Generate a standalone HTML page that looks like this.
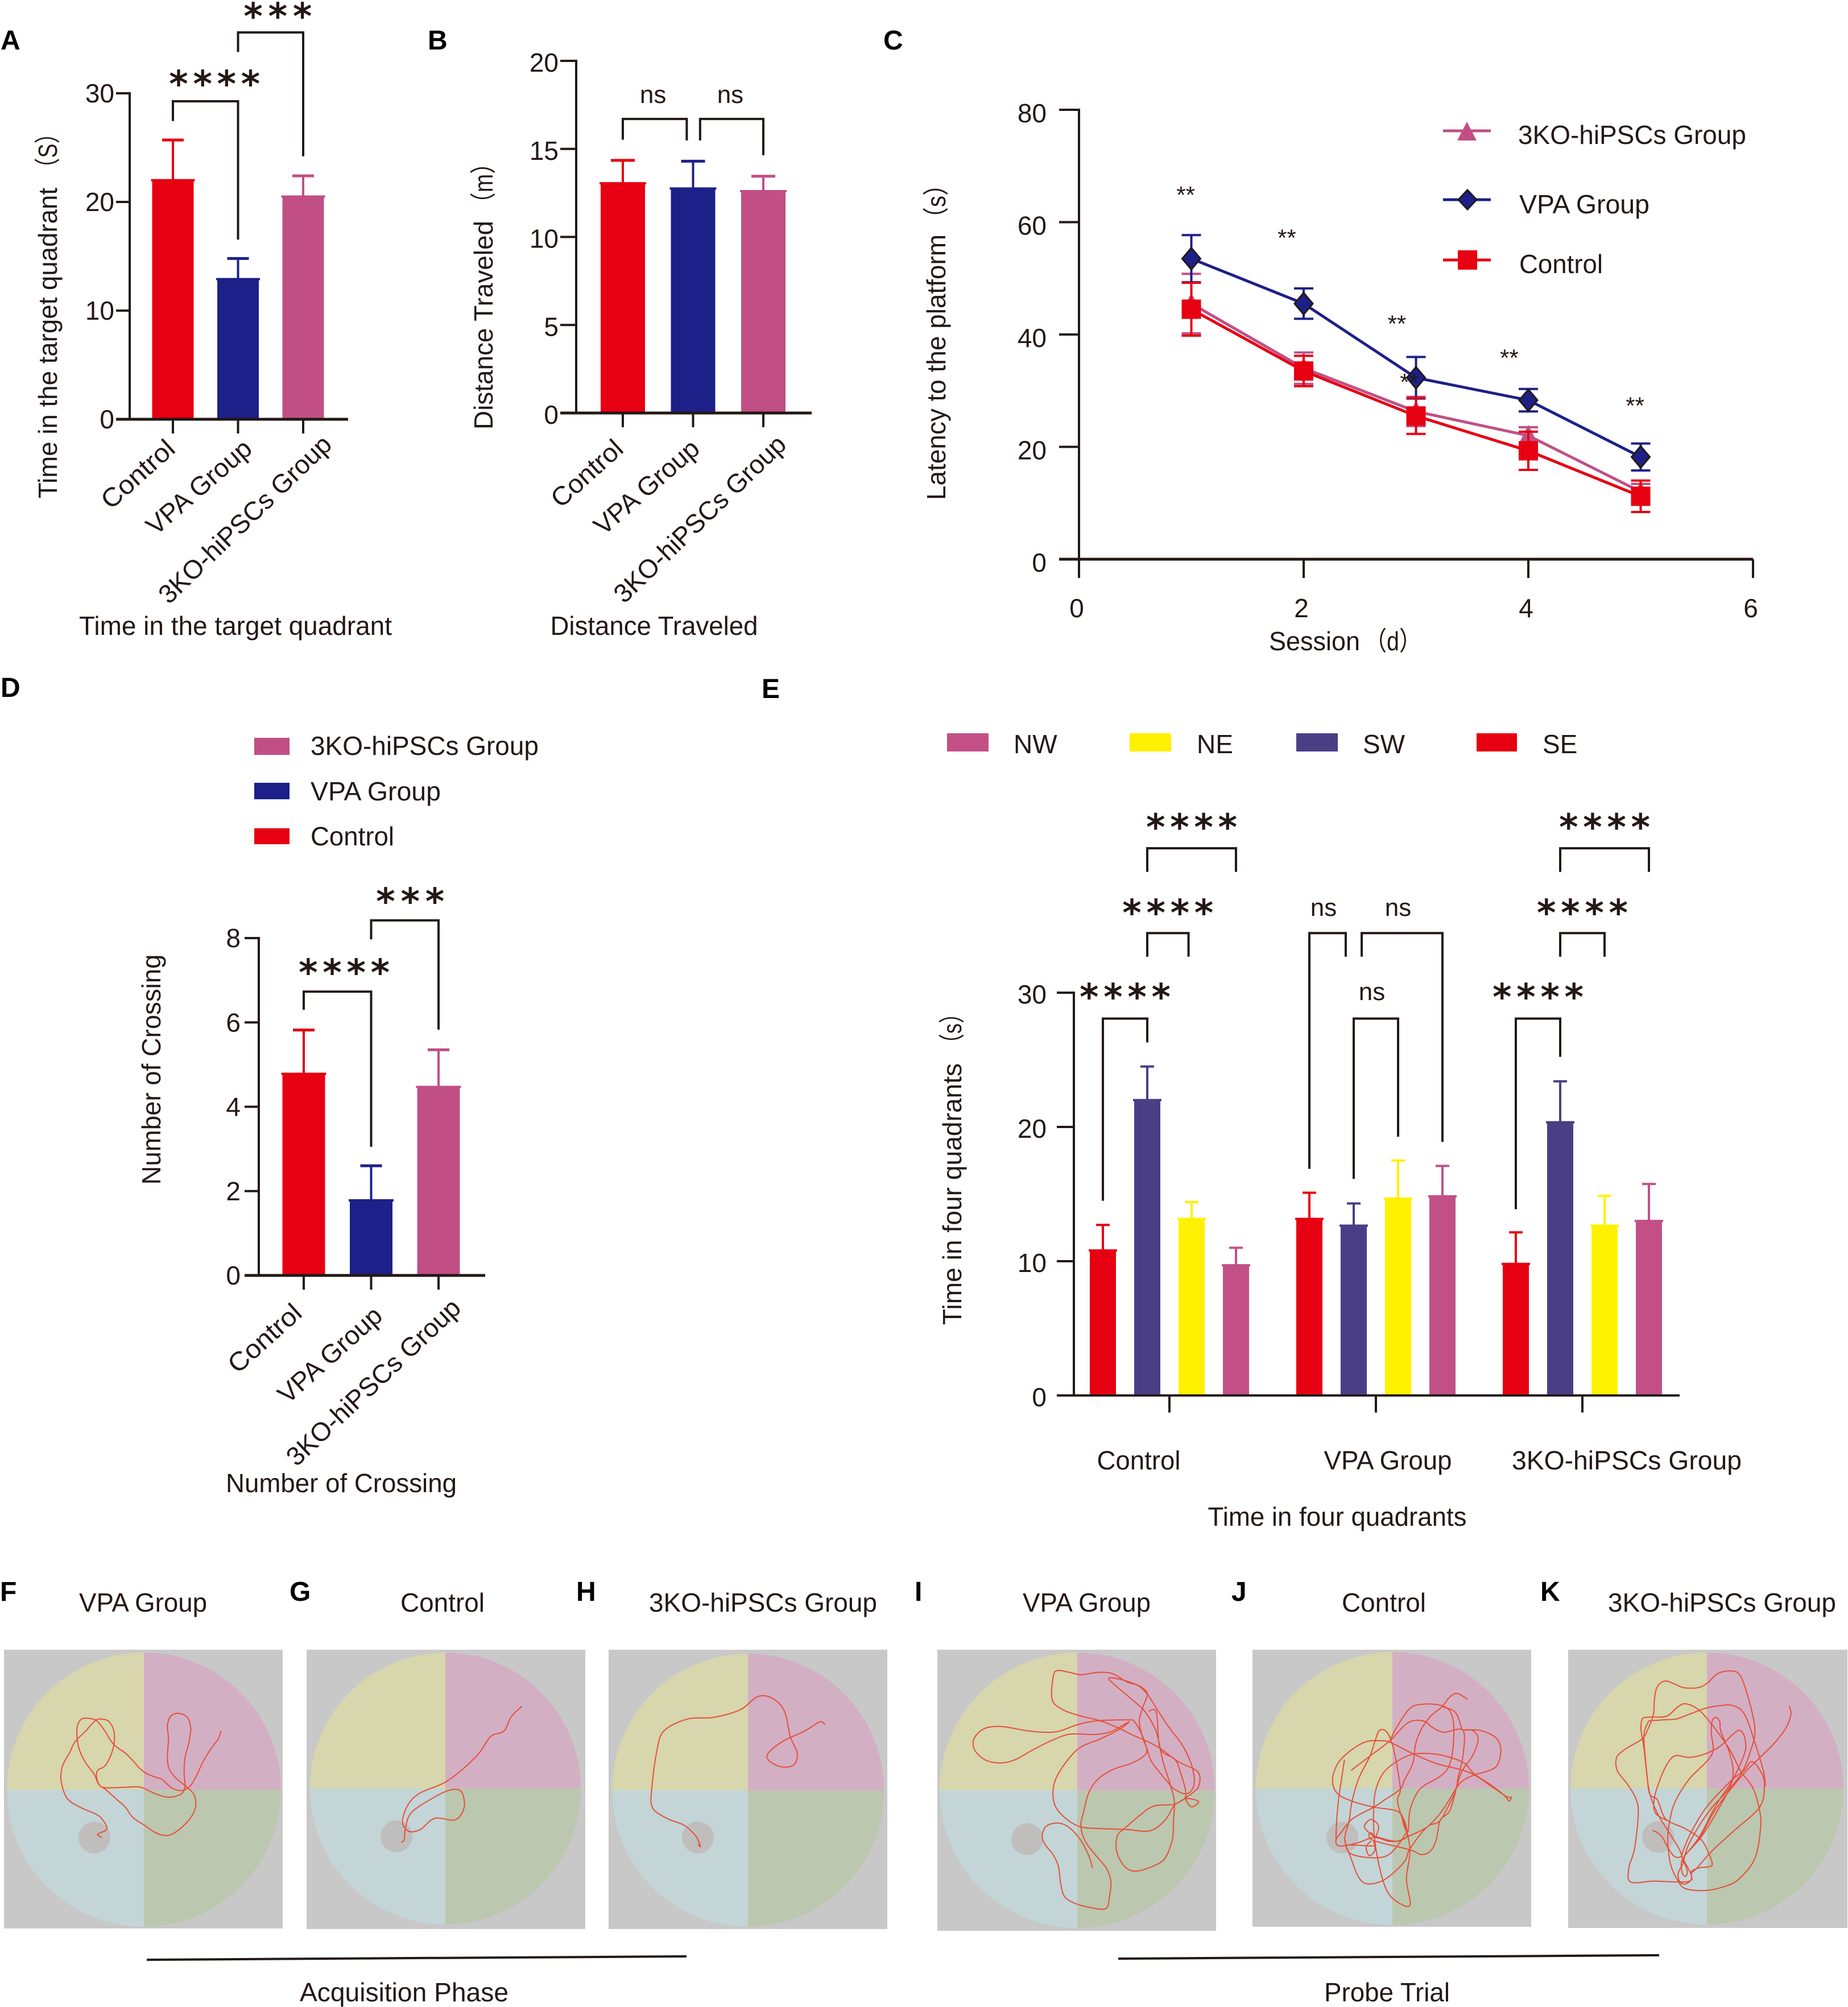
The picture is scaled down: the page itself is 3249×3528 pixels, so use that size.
<!DOCTYPE html>
<html lang="en">
<head>
<meta charset="utf-8">
<title>Behavioural test figure</title>
<style>
html,body{margin:0;padding:0;background:#fff;}
svg{display:block;}
text{font-family:"Liberation Sans","Noto Sans CJK SC",sans-serif;fill:#231815;}
.letter{font-weight:bold;font-size:48px;fill:#000;}
</style>
</head>
<body>
<svg id="fig" xmlns="http://www.w3.org/2000/svg" width="3249" height="3528" viewBox="0 0 3249 3528">
<rect x="0" y="0" width="3249" height="3528" fill="#fff"/>

<text class="letter" x="1" y="87">A</text>
<text class="letter" x="752" y="87">B</text>
<text class="letter" x="1553" y="87">C</text>
<text class="letter" x="1" y="1225">D</text>
<text class="letter" x="1339" y="1227">E</text>
<text class="letter" x="0" y="2814">F</text>
<text class="letter" x="509" y="2814">G</text>
<text class="letter" x="1013" y="2814">H</text>
<text class="letter" x="1608" y="2814">I</text>
<text class="letter" x="2165" y="2814">J</text>
<text class="letter" x="2708" y="2814">K</text>

<g>
  <text font-size="46" textLength="546" lengthAdjust="spacingAndGlyphs" text-anchor="middle" transform="translate(100,603) rotate(-90)">Time in the target quadrant</text>
  <text font-size="46" textLength="100" lengthAdjust="spacingAndGlyphs" text-anchor="middle" transform="translate(100,265) rotate(-90)">（S）</text>
</g>
<text font-size="46" textLength="550" lengthAdjust="spacingAndGlyphs" text-anchor="middle" x="414" y="1116">Time in the target quadrant</text>
<g>
  <text font-size="46" textLength="367" lengthAdjust="spacingAndGlyphs" text-anchor="middle" transform="translate(866,571.5) rotate(-90)">Distance Traveled</text>
  <text font-size="46" textLength="110" lengthAdjust="spacingAndGlyphs" text-anchor="middle" transform="translate(866,322) rotate(-90)">（m）</text>
</g>
<text font-size="46" textLength="365" lengthAdjust="spacingAndGlyphs" text-anchor="middle" x="1150" y="1116">Distance Traveled</text>
<g>
  <text font-size="46" textLength="467" lengthAdjust="spacingAndGlyphs" text-anchor="middle" transform="translate(1662,645.5) rotate(-90)">Latency to the platform</text>
  <text font-size="46" textLength="100" lengthAdjust="spacingAndGlyphs" text-anchor="middle" transform="translate(1662,354) rotate(-90)">（s）</text>
</g>
<g>
  <text font-size="46" textLength="160" lengthAdjust="spacingAndGlyphs" x="2231" y="1143">Session</text>
  <text font-size="46" textLength="100" lengthAdjust="spacingAndGlyphs" text-anchor="middle" x="2449" y="1143">（d）</text>
</g>
<text font-size="46" textLength="405" lengthAdjust="spacingAndGlyphs" text-anchor="middle" transform="translate(282,1880) rotate(-90)">Number of Crossing</text>
<text font-size="46" textLength="406" lengthAdjust="spacingAndGlyphs" text-anchor="middle" x="600" y="2623">Number of Crossing</text>
<g>
  <text font-size="46" textLength="460" lengthAdjust="spacingAndGlyphs" text-anchor="middle" transform="translate(1690,2099) rotate(-90)">Time in four quadrants</text>
  <text font-size="46" textLength="90" lengthAdjust="spacingAndGlyphs" text-anchor="middle" transform="translate(1690,1808) rotate(-90)">（s）</text>
</g>
<text font-size="46" textLength="455" lengthAdjust="spacingAndGlyphs" text-anchor="middle" x="2351" y="2682">Time in four quadrants</text>

<g>
  <line x1="2537" y1="230" x2="2621" y2="230" stroke="#c14f85" stroke-width="5"/>
  <polygon points="2579,214 2596,247 2562,247" fill="#c14f85"/>
  <text x="2669" y="253" font-size="46" textLength="401" lengthAdjust="spacingAndGlyphs">3KO-hiPSCs Group</text>
  <line x1="2537" y1="351" x2="2621" y2="351" stroke="#1d2088" stroke-width="5"/>
  <polygon points="2580,334 2596,351 2580,368 2564,351" fill="#1d2088" stroke="#231815" stroke-width="3"/>
  <text x="2671" y="375" font-size="46" textLength="229" lengthAdjust="spacingAndGlyphs">VPA Group</text>
  <line x1="2537" y1="457" x2="2621" y2="457" stroke="#e60012" stroke-width="5"/>
  <rect x="2563" y="440" width="34" height="34" fill="#e60012"/>
  <text x="2671" y="480" font-size="46" textLength="147" lengthAdjust="spacingAndGlyphs">Control</text>
</g>

<g>
  <rect x="447" y="1297" width="62" height="30" fill="#c14f85"/>
  <text x="546" y="1327" font-size="46" textLength="401" lengthAdjust="spacingAndGlyphs">3KO-hiPSCs Group</text>
  <rect x="447" y="1376" width="62" height="29" fill="#1d2088"/>
  <text x="546" y="1407" font-size="46" textLength="229" lengthAdjust="spacingAndGlyphs">VPA Group</text>
  <rect x="447" y="1456" width="62" height="28" fill="#e60012"/>
  <text x="546" y="1486" font-size="46" textLength="147" lengthAdjust="spacingAndGlyphs">Control</text>
</g>

<g>
  <rect x="1665" y="1289" width="73" height="32" fill="#c25086"/>
  <text x="1782" y="1324" font-size="46">NW</text>
  <rect x="1986" y="1289" width="73" height="32" fill="#fff100"/>
  <text x="2104" y="1324" font-size="46">NE</text>
  <rect x="2279" y="1289" width="73" height="32" fill="#4a3f87"/>
  <text x="2396" y="1324" font-size="46">SW</text>
  <rect x="2596" y="1289" width="71" height="32" fill="#e60012"/>
  <text x="2712" y="1324" font-size="46">SE</text>
</g>

<text font-size="46" textLength="225" lengthAdjust="spacingAndGlyphs" x="139" y="2833">VPA Group</text>
<text font-size="46" textLength="148" lengthAdjust="spacingAndGlyphs" x="704" y="2833">Control</text>
<text font-size="46" textLength="401" lengthAdjust="spacingAndGlyphs" x="1141" y="2833">3KO-hiPSCs Group</text>
<text font-size="46" textLength="225" lengthAdjust="spacingAndGlyphs" x="1798" y="2833">VPA Group</text>
<text font-size="46" textLength="148" lengthAdjust="spacingAndGlyphs" x="2359" y="2833">Control</text>
<text font-size="46" textLength="401" lengthAdjust="spacingAndGlyphs" x="2827" y="2833">3KO-hiPSCs Group</text>

<line x1="258" y1="3445" x2="1207" y2="3439" stroke="#231815" stroke-width="4"/>
<text font-size="46" textLength="367" lengthAdjust="spacingAndGlyphs" x="527" y="3518">Acquisition Phase</text>
<line x1="1966" y1="3443" x2="2917" y2="3437" stroke="#231815" stroke-width="4"/>
<text font-size="46" textLength="221" lengthAdjust="spacingAndGlyphs" x="2328" y="3518">Probe Trial</text>
</svg>

<script>
/* ---------- Panel A / B / D data ---------- */
const categories = ['Control', 'VPA Group', '3KO-hiPSCs Group'];
const groupColors = ['#e60012', '#1d2088', '#c14f85'];

const aTicks = [0, 10, 20, 30];
const aValues = [22, 12.9, 20.5];
const aErrors = [3.7, 1.9, 1.9];
const aComparisons = [
  {from: 0, to: 1, top: 29.27, leftEnd: 27.45, rightEnd: 16.53, label: '****', labelCat: 0.64, labelAt: 31.36},
  {from: 1, to: 2, top: 35.6, leftEnd: 33.8, rightEnd: 24.2, label: '***', labelCat: 1.61, labelAt: 37.6}
];

const bTicks = [0, 5, 10, 15, 20];
const bValues = [13.05, 12.75, 12.6];
const bErrors = [1.3, 1.55, 0.85];
const bComparisons = [
  {from: 0, to: 0.91, top: 16.7, leftEnd: 15.52, rightEnd: 15.48, label: 'ns', labelCat: 0.43, labelAt: 18.1},
  {from: 1.1, to: 2, top: 16.7, leftEnd: 15.48, rightEnd: 14.64, label: 'ns', labelCat: 1.53, labelAt: 18.1}
];

const dTicks = [0, 2, 4, 6, 8];
const dValues = [4.78, 1.78, 4.47];
const dErrors = [1.04, 0.82, 0.88];
const dComparisons = [
  {from: 0, to: 1, top: 6.73, leftEnd: 6.3, rightEnd: 3.05, label: '****', labelCat: 0.6, labelAt: 7.31},
  {from: 1, to: 2, top: 8.42, leftEnd: 7.97, rightEnd: 5.83, label: '***', labelCat: 1.58, labelAt: 9.0}
];

/* ---------- Panel C data ---------- */
const cXTicks = [0, 2, 4, 6];
const cYTicks = [0, 20, 40, 60, 80];
const cSessions = [1, 2, 3, 4, 5];
const c3koMeans = [45.5, 34, 26.3, 22, 12];
const c3koErrors = [5.3, 2.8, 2.6, 1.5, 1.4];
const cVpaMeans = [53.5, 45.5, 32.3, 28.3, 18.2];
const cVpaErrors = [4.2, 2.7, 3.7, 2.0, 2.4];
const cControlMeans = [44.5, 33.5, 25.5, 19.3, 11.2];
const cControlErrors = [4.7, 2.7, 3.2, 3.4, 2.8];
const cSigSessions = [0.95, 1.85, 2.83, 3.83, 4.95, 2.94];
const cSigValues = [65.8, 58.2, 42.9, 36.8, 28.3, 32.5];

/* ---------- Panel E data ---------- */
const eGroups = ['Control', 'VPA Group', '3KO-hiPSCs Group'];
const eQuadrants = ['SE', 'SW', 'NE', 'NW'];
const eColors = ['#e60012', '#4a3f87', '#fff100', '#c25086'];
const eTicks = [0, 10, 20, 30];
const eValuesControl = [10.8, 22, 13.15, 9.7];
const eValuesVpa = [13.15, 12.65, 14.66, 14.83];
const eValues3ko = [9.8, 20.35, 12.65, 13];
const eErrorsControl = [1.9, 2.5, 1.25, 1.3];
const eErrorsVpa = [1.95, 1.65, 2.84, 2.27];
const eErrors3ko = [2.35, 3.05, 2.22, 2.75];
const eComparisons = [
  {group: 0, from: 0, to: 1, top: 28.07, leftEnd: 14.5, rightEnd: 26.3, label: '****', labelAt: 30.08},
  {group: 0, from: 1, to: 1.93, top: 34.44, leftEnd: 32.68, rightEnd: 32.68, label: '****', labelAt: 36.36},
  {group: 0, from: 1, to: 3, top: 40.76, leftEnd: 39, rightEnd: 39, label: '****', labelAt: 42.73},
  {group: 1, from: 0, to: 0.82, top: 34.44, leftEnd: 16.88, rightEnd: 32.68, label: 'ns', labelAt: 36.36},
  {group: 1, from: 1.18, to: 3, top: 34.44, leftEnd: 32.68, rightEnd: 18.89, label: 'ns', labelAt: 36.36},
  {group: 1, from: 1, to: 2, top: 28.07, leftEnd: 16.13, rightEnd: 19.27, label: 'ns', labelAt: 30.08},
  {group: 2, from: 0, to: 1, top: 28.07, leftEnd: 13.87, rightEnd: 25.22, label: '****', labelAt: 30.08},
  {group: 2, from: 1, to: 2, top: 34.44, leftEnd: 32.68, rightEnd: 32.68, label: '****', labelAt: 36.36},
  {group: 2, from: 1, to: 3, top: 40.76, leftEnd: 39, rightEnd: 39, label: '****', labelAt: 42.73}
];

/* ---------- Panels F–K swim paths (traced samples, in tracing units) ---------- */
const trackF = [[[1145,428],[1130,470],[1090,525],[1050,590],[1015,665],[985,715],[955,738],[920,742],[880,725],[835,685],[800,672],[755,655],[715,625],[680,585],[640,545],[590,510],[560,475],[530,425],[490,375],[450,362],[410,365],[388,400],[385,450],[395,520],[430,595],[475,655],[500,710],[540,740],[590,785],[640,830],[680,885],[740,925],[800,965],[855,980],[900,965],[960,915],[1000,860],[1012,810],[1000,760],[960,720],[905,675],[870,625],[862,560],[868,470],[862,400],[880,350],[920,335],[965,355],[985,410],[975,490],[955,570],[950,650],[955,720],[935,760],[870,778],[800,760],[720,725],[640,725],[540,728],[505,715],[488,670],[495,635],[530,615],[560,565],[580,500],[580,430],[555,380],[515,365],[480,375],[430,430],[375,485],[345,545],[310,610],[300,680],[320,760],[350,800],[410,835],[480,865],[515,890],[543,945],[495,972],[515,990],[490,975]]];
const trackG = [[[888,503],[870,540],[858,590],[835,610],[815,670],[785,730],[755,775],[715,810],[695,850],[685,910],[695,945],[715,940],[740,900],[775,905],[790,860],[785,805],[765,800],[735,830],[700,880],[690,935],[688,975],[683,985]]];
const trackH = [[[1404,568],[1395,558],[1370,590],[1330,630],[1305,680],[1325,715],[1350,712],[1357,670],[1345,610],[1335,520],[1315,475],[1290,468],[1260,515],[1215,542],[1170,548],[1130,590],[1118,660],[1110,780],[1110,860],[1135,900],[1165,925],[1185,965],[1192,1000],[1188,992]]];
const trackI = [[[818,1152],[800,1090],[760,1010],[710,950],[665,920],[615,915],[570,935],[553,985],[570,1030],[610,1080],[638,1140],[650,1230],[670,1300],[720,1335],[800,1358],[888,1365],[908,1300],[915,1220],[890,1150],[840,1090],[780,1010],[757,930],[770,860],[800,750],[850,680],[930,630],[1020,600],[1090,560],[1105,525],[1085,470],[1065,380],[1085,300],[1108,235],[1080,200],[1035,178],[960,155],[905,155],[1000,240],[1090,320],[1140,400],[1165,470],[1190,590],[1225,700],[1250,800],[1245,900],[1240,1000],[1200,1100],[1140,1140],[1045,1168],[985,1140],[945,1060],[950,980],[990,940],[1060,880],[1140,825],[1250,815],[1310,785],[1378,800],[1340,828],[1310,785],[1340,760],[1378,720],[1375,645],[1270,590],[1175,520],[1100,480],[1030,450],[960,415],[860,375],[740,345],[650,310],[605,260],[610,150],[630,110],[700,120],[760,132],[840,120],[920,125],[1000,170],[1060,190],[1108,235],[1150,300],[1215,400],[1290,500],[1335,590],[1355,680],[1345,735],[1310,760],[1250,735],[1200,680],[1130,590],[1105,520],[1080,450],[1040,380],[1010,370],[840,375],[740,395],[640,430],[560,435],[460,425],[340,405],[250,415],[195,465],[195,525],[250,580],[330,597],[410,580],[500,530],[600,480],[700,445],[830,447],[920,430],[1010,380],[960,420],[860,470],[740,525],[640,650],[610,745],[625,830],[690,900],[760,935],[860,943],[1000,948],[1120,955],[1200,900],[1250,820],[1310,770],[1280,640],[1250,575],[1175,520],[1155,330],[1115,325]]];
const trackJ = [
  [[1135,262],[1080,230],[1040,250],[1000,300],[940,350],[890,420],[860,500],[845,600],[800,690],[780,735],[700,790],[640,830],[530,890],[470,960],[440,1005],[460,1035],[550,1020],[640,990],[720,1010],[780,1005],[815,980],[800,900],[760,850],[640,830],[530,800],[450,760],[422,690],[450,600],[520,530],[600,485],[680,480],[730,490],[850,550],[970,600],[1090,630],[1170,660],[1260,720],[1340,775],[1365,778],[1352,797],[1330,770],[1260,715],[1170,655],[1120,600],[1050,570],[960,550],[850,550],[760,590],[690,650],[650,740],[640,830],[640,950],[660,1100],[700,1250],[750,1320],[830,1348],[812,1210],[830,1070],[815,960],[780,860],[765,790],[780,735],[760,600],[735,490],[705,430],[670,425],[650,470],[620,560],[560,680],[525,800],[510,900],[487,1000],[520,1100],[560,1200],[610,1235],[700,1210],[800,1120],[830,1050],[920,935],[990,900],[1060,770],[1075,730],[1105,640],[1160,560],[1190,470],[1160,425],[1110,425],[1200,425],[1285,465],[1310,530],[1290,610],[1240,640],[1170,660],[1110,690],[1075,730],[1000,850],[920,935],[820,985],[760,1010],[650,985],[625,965],[615,985],[650,1010],[830,1055],[890,1080],[940,1060],[970,1000],[990,900],[1040,850],[1075,730],[1085,670],[1110,560],[1110,425],[1010,435],[950,410],[900,375],[820,385],[725,480],[620,560],[520,637]],
  [[725,480],[760,410],[830,310],[900,287],[1000,295],[1050,340],[1062,450],[1045,590],[1000,660],[900,720],[860,770],[830,850],[820,960],[800,930],[790,890]],
  [[1000,300],[1070,330],[1105,420]],
  [[650,990],[665,930],[625,895],[590,930],[610,960],[640,985]],
  [[625,1008],[600,1040],[615,1085],[645,1060],[640,1010]],
  [[640,1035],[520,1030],[490,1030]],
  [[485,580],[470,680],[455,780],[445,890],[440,1000]],
  [[487,1000],[510,1070],[600,1095],[700,1090],[760,1040],[815,960]]
];
const trackK = [
  [[1165,295],[1175,340],[1150,410],[1090,490],[1010,570],[920,660],[830,770],[760,870],[690,1000],[605,1100],[600,1170],[620,1195],[628,1165],[610,1110],[620,1080],[700,990],[770,880],[850,740],[915,650],[960,540],[985,430],[960,290],[910,140],[860,112],[790,125],[735,175],[685,200],[610,200],[560,180],[510,165],[470,195],[455,260],[450,340],[420,420],[390,470],[300,525],[255,570],[260,640],[310,705],[355,780],[370,860],[350,1050],[320,1150],[330,1225],[450,1220],[580,1225],[640,1220],[650,1190],[610,1110]],
  [[445,952],[490,980],[530,1050],[560,1090],[595,1090],[610,1050],[650,960],[730,830],[860,690],[925,640],[970,590],[1020,650],[1035,720],[1010,830],[880,950],[760,1060],[680,1150],[650,1180],[655,1215]],
  [[385,390],[395,360],[440,355],[520,350],[580,300],[620,285],[680,310],[730,360],[800,450],[860,540],[910,640],[975,730],[1010,850],[1015,940],[985,1100],[900,1210],[820,1250],[720,1270],[620,1260],[580,1220],[540,1130],[525,1000],[540,880],[570,790],[640,680],[730,590],[765,530],[755,440],[760,375],[780,357],[800,380],[805,430],[850,540],[870,640],[850,730],[760,830],[690,930],[630,1040],[605,1130]],
  [[425,375],[500,370],[570,365],[640,340],[720,310],[800,295],[870,295],[930,340],[985,490],[1030,640],[1040,720]],
  [[385,390],[385,430],[400,520],[420,700],[440,790],[480,880],[530,960],[590,1060],[605,1120]],
  [[425,375],[405,420],[400,480],[415,650],[430,760],[470,790],[500,870],[530,905],[620,945],[700,1000],[740,1070],[760,1130],[740,1145],[690,1150],[650,1170],[650,1210],[620,1235],[590,1225],[580,1180],[605,1130]],
  [[530,905],[460,860],[455,780],[490,670],[530,590],[570,558],[640,568],[720,550],[800,510],[870,445],[905,425],[930,460],[935,530],[900,620],[860,700],[780,820],[690,990],[610,1090]]
];

/* ---------- Drawing helpers ---------- */
const NS = 'http://www.w3.org/2000/svg';
const fig = document.getElementById('fig');
const INK = '#231815';

function mk(tag, attrs, name, parent) {
  const el = document.createElementNS(NS, tag);
  for (const k in attrs) el.setAttribute(k, attrs[k]);
  
  
  (parent || fig).appendChild(el);
  return el;
}
function line(x1, y1, x2, y2, color, w, name, parent) {
  return mk('line', {x1: x1, y1: y1, x2: x2, y2: y2, stroke: color, 'stroke-width': w}, name, parent);
}
function label(str, x, y, attrs, name, parent) {
  const el = mk('text', Object.assign({x: x, y: y, 'font-size': 46}, attrs || {}), name, parent);
  el.textContent = str;
  return el;
}
function sigLabel(str, xc, yc, name, parent) {
  if (str === 'ns') {
    return label('ns', xc, yc + 15, {'text-anchor': 'middle', 'font-size': 44}, name, parent);
  }
  const el = mk('text', {
    x: xc, y: yc + 32, 'text-anchor': 'middle', 'font-size': 64, 'font-weight': 'bold',
    textLength: str.length * 40, lengthAdjust: 'spacing', style: 'font-family:"DejaVu Sans",sans-serif'
  }, name, parent);
  el.textContent = str;
  return el;
}
function bracket(xl, xr, yt, yl, yr, name, parent) {
  return mk('path', {
    d: 'M' + xl + ' ' + yl + 'V' + yt + 'H' + xr + 'V' + yr,
    fill: 'none', stroke: INK, 'stroke-width': 4
  }, name, parent);
}

/* ---------- Three-bar charts ---------- */
function drawBarChart(cfg) {
  const g = mk('g', {}, cfg.id + '-chart');
  const y = v => cfg.y0 + (cfg.yTop - cfg.y0) * v / cfg.max;
  const x = i => cfg.first + cfg.step * i;

  cfg.values.forEach((v, i) => {
    const c = groupColors[i];
    mk('rect', {x: x(i) - cfg.barW / 2, y: y(v), width: cfg.barW, height: cfg.y0 - y(v), fill: c}, cfg.id + '-bar-' + i, g);
    line(x(i) - cfg.barW / 2 - 2, y(v), x(i) + cfg.barW / 2 + 2, y(v), c, 4, cfg.id + '-bar-top-' + i, g);
    line(x(i), y(v), x(i), y(v + cfg.errors[i]), c, 4, cfg.id + '-error-stem-' + i, g);
    line(x(i) - cfg.cap / 2, y(v + cfg.errors[i]), x(i) + cfg.cap / 2, y(v + cfg.errors[i]), c, 5, cfg.id + '-error-cap-' + i, g);
  });

  line(cfg.x0, y(cfg.max) - 2, cfg.x0, cfg.y0 + 2, INK, 4, cfg.id + '-y-axis', g);
  line(cfg.x0 - cfg.tickL, cfg.y0, cfg.xEnd, cfg.y0, INK, 5, cfg.id + '-x-axis', g);
  cfg.ticks.forEach(t => {
    line(cfg.x0 - cfg.tickL, y(t), cfg.x0, y(t), INK, 4, cfg.id + '-y-tick-' + t, g);
    label(String(t), cfg.x0 - cfg.labelGap, y(t) + cfg.labelDy, {'text-anchor': 'end'}, cfg.id + '-y-tick-label-' + t, g);
  });
  categories.forEach((c, i) => {
    line(x(i), cfg.y0, x(i), cfg.y0 + 25, INK, 4, cfg.id + '-x-tick-' + i, g);
    const p = cfg.catEnds[i];
    mk('text', {
      'font-size': 46, 'text-anchor': 'end', textLength: p[2], lengthAdjust: 'spacingAndGlyphs',
      transform: 'translate(' + (x(i) + p[0]) + ',' + p[1] + ') rotate(' + (-p[3]) + ') translate(0,16)'
    }, cfg.id + '-x-tick-label-' + i, g).textContent = c;
  });
  cfg.comparisons.forEach((b, i) => {
    bracket(x(b.from), x(b.to), y(b.top), y(b.leftEnd), y(b.rightEnd), cfg.id + '-bracket-' + i, g);
    sigLabel(b.label, x(b.labelCat), y(b.labelAt), cfg.id + '-significance-' + i, g);
  });
}

drawBarChart({
  id: 'a', values: aValues, errors: aErrors, ticks: aTicks, comparisons: aComparisons,
  x0: 228, xEnd: 612, y0: 737, yTop: 164, max: 30, first: 304, step: 114.5, barW: 73, cap: 38,
  tickL: 24, labelGap: 27, labelDy: 16,
  catEnds: [[-4, 781, 156, 42], [17, 781, 228, 41], [42, 773, 402, 44]]
});
drawBarChart({
  id: 'b', values: bValues, errors: bErrors, ticks: bTicks, comparisons: bComparisons,
  x0: 1013, xEnd: 1427, y0: 726, yTop: 107, max: 20, first: 1095, step: 123.5, barW: 78, cap: 42,
  tickL: 28, labelGap: 31, labelDy: 19,
  catEnds: [[-7, 781, 152, 42], [4, 781, 228, 41], [32, 773, 400, 44]]
});
drawBarChart({
  id: 'd', values: dValues, errors: dErrors, ticks: dTicks, comparisons: dComparisons,
  x0: 455, xEnd: 853, y0: 2242, yTop: 1649, max: 8, first: 534, step: 118.5, barW: 75, cap: 38,
  tickL: 25, labelGap: 32, labelDy: 16,
  catEnds: [[-11, 2300, 156, 42], [12, 2305, 228, 42], [31, 2291, 402, 43.5]]
});

/* ---------- Panel C line chart ---------- */
(function drawLineChart() {
  const g = mk('g', {}, 'c-chart');
  const x = v => 1897 + (3082 - 1897) * v / 6;
  const y = v => 983 + (193 - 983) * v / 80;

  line(1897, y(80) - 2, 1897, 1016, INK, 4, 'c-y-axis', g);
  line(1862, 983, 3082, 983, INK, 5, 'c-x-axis', g);
  cYTicks.forEach(t => {
    line(1862, y(t), 1897, y(t), INK, 4, 'c-y-tick-' + t, g);
    label(String(t), 1840, y(t) + 22, {'text-anchor': 'end'}, 'c-y-tick-label-' + t, g);
  });
  cXTicks.forEach(t => {
    line(x(t), 983, x(t), 1016, INK, 4, 'c-x-tick-' + t, g);
    label(String(t), x(t) - 4, 1085, {'text-anchor': 'middle'}, 'c-x-tick-label-' + t, g);
  });

  function series(means, errs, color, key, marker) {
    const sg = mk('g', {}, 'c-series-' + key, g);
    mk('polyline', {
      points: means.map((m, i) => x(cSessions[i]) + ',' + y(m)).join(' '),
      fill: 'none', stroke: color, 'stroke-width': 5
    }, 'c-line-' + key, sg);
    means.forEach((m, i) => {
      const px = x(cSessions[i]);
      const hi = y(m + errs[i]);
      const lo = y(m - errs[i]);
      line(px, hi, px, lo, color, 4, 'c-error-stem-' + key + '-' + i, sg);
      line(px - 17, hi, px + 17, hi, color, 4, 'c-error-cap-high-' + key + '-' + i, sg);
      line(px - 17, lo, px + 17, lo, color, 4, 'c-error-cap-low-' + key + '-' + i, sg);
      marker(px, y(m), key + '-' + i, sg);
    });
  }
  series(c3koMeans, c3koErrors, '#c14f85', '3ko', (px, py, k, p) => {
    mk('polygon', {points: px + ',' + (py - 19) + ' ' + (px + 17) + ',' + (py + 15) + ' ' + (px - 17) + ',' + (py + 15), fill: '#c14f85'}, 'c-marker-' + k, p);
  });
  series(cVpaMeans, cVpaErrors, '#1d2088', 'vpa', (px, py, k, p) => {
    mk('polygon', {points: px + ',' + (py - 19) + ' ' + (px + 16) + ',' + py + ' ' + px + ',' + (py + 19) + ' ' + (px - 16) + ',' + py, fill: '#1d2088', stroke: INK, 'stroke-width': 3}, 'c-marker-' + k, p);
  });
  series(cControlMeans, cControlErrors, '#e60012', 'control', (px, py, k, p) => {
    mk('rect', {x: px - 17, y: py - 17, width: 34, height: 34, fill: '#e60012'}, 'c-marker-' + k, p);
  });
  cSigSessions.forEach((s, i) => {
    label('**', x(s), y(cSigValues[i]) + 24, {'text-anchor': 'middle', 'font-size': 42}, 'c-significance-' + i, g);
  });
})();

/* ---------- Panel E grouped bars ---------- */
(function drawGrouped() {
  const g = mk('g', {}, 'e-chart');
  const valueSets = [eValuesControl, eValuesVpa, eValues3ko];
  const errorSets = [eErrorsControl, eErrorsVpa, eErrors3ko];
  const y = v => 2453 + (1745 - 2453) * v / 30;
  const gc = i => 2056 + 363 * i;
  const x = (i, b) => gc(i) + (b - 1.5) * 78;
  const barW = 46;

  valueSets.forEach((vals, i) => {
    vals.forEach((v, b) => {
      const c = eColors[b];
      const top = y(v + errorSets[i][b]);
      const nm = eGroups[i].split(' ')[0].toLowerCase() + '-' + eQuadrants[b].toLowerCase();
      mk('rect', {x: x(i, b) - barW / 2, y: y(v), width: barW, height: 2453 - y(v), fill: c}, 'e-bar-' + nm, g);
      line(x(i, b) - barW / 2 - 2, y(v), x(i, b) + barW / 2 + 2, y(v), c, 4, 'e-bar-top-' + nm, g);
      line(x(i, b), y(v), x(i, b), top, c, 4, 'e-error-stem-' + nm, g);
      line(x(i, b) - 12, top, x(i, b) + 12, top, c, 4, 'e-error-cap-' + nm, g);
    });
  });
  line(1888, 1743, 1888, 2455, INK, 4, 'e-y-axis', g);
  line(1858, 2453, 2953, 2453, INK, 4, 'e-x-axis', g);
  eTicks.forEach(t => {
    line(1858, y(t), 1888, y(t), INK, 4, 'e-y-tick-' + t, g);
    label(String(t), 1840, y(t) + 19, {'text-anchor': 'end'}, 'e-y-tick-label-' + t, g);
  });
  const groupLabelCenters = [2002, 2440, 2860];
  const groupLabelLengths = [147, 225, 404];
  eGroups.forEach((c, i) => {
    line(gc(i), 2453, gc(i), 2483, INK, 4, 'e-x-tick-' + i, g);
    label(c, groupLabelCenters[i], 2583, {'text-anchor': 'middle', textLength: groupLabelLengths[i], lengthAdjust: 'spacingAndGlyphs'}, 'e-x-tick-label-' + i, g);
  });
  eComparisons.forEach((b, i) => {
    const xl = x(b.group, b.from);
    const xr = x(b.group, b.to);
    bracket(xl, xr, y(b.top), y(b.leftEnd), y(b.rightEnd), 'e-bracket-' + i, g);
    sigLabel(b.label, (xl + xr) / 2 - (b.label === 'ns' ? 7 : 0), y(b.labelAt), 'e-significance-' + i, g);
  });
})();

/* ---------- Panels F–K water maze ---------- */
function smoothPath(pts) {
  let d = 'M' + pts[0][0].toFixed(1) + ' ' + pts[0][1].toFixed(1);
  for (let i = 0; i < pts.length - 1; i++) {
    const p0 = pts[Math.max(i - 1, 0)];
    const p1 = pts[i];
    const p2 = pts[i + 1];
    const p3 = pts[Math.min(i + 2, pts.length - 1)];
    const c1x = p1[0] + (p2[0] - p0[0]) / 6;
    const c1y = p1[1] + (p2[1] - p0[1]) / 6;
    const c2x = p2[0] - (p3[0] - p1[0]) / 6;
    const c2y = p2[1] - (p3[1] - p1[1]) / 6;
    d += 'C' + c1x.toFixed(1) + ' ' + c1y.toFixed(1) + ' ' + c2x.toFixed(1) + ' ' + c2y.toFixed(1) + ' ' + p2[0].toFixed(1) + ' ' + p2[1].toFixed(1);
  }
  return d;
}
function drawMaze(m) {
  const g = mk('g', {}, m.id + '-maze');
  const clipId = 'clip-' + m.id;
  const defs = mk('defs', {}, m.id + '-defs', g);
  const cp = mk('clipPath', {id: clipId}, m.id + '-clip', defs);
  mk('ellipse', {cx: m.cx, cy: m.cy, rx: m.rx, ry: m.ry}, m.id + '-clip-circle', cp);

  mk('rect', {x: m.x, y: m.y, width: m.w, height: m.h, fill: '#c8c8c8'}, m.id + '-maze-background', g);
  const q = mk('g', {'clip-path': 'url(#' + clipId + ')'}, m.id + '-pool', g);
  mk('rect', {x: m.cx - m.rx, y: m.cy - m.ry, width: m.rx, height: m.ry, fill: '#d7d6ad'}, m.id + '-quadrant-nw', q);
  mk('rect', {x: m.cx, y: m.cy - m.ry, width: m.rx, height: m.ry, fill: '#d3afc4'}, m.id + '-quadrant-ne', q);
  mk('rect', {x: m.cx - m.rx, y: m.cy, width: m.rx, height: m.ry, fill: '#c3d5d7'}, m.id + '-quadrant-sw', q);
  mk('rect', {x: m.cx, y: m.cy, width: m.rx, height: m.ry, fill: '#bcc7af'}, m.id + '-quadrant-se', q);
  mk('circle', {cx: m.px, cy: m.py, r: 28, fill: '#c0bebd'}, m.id + '-platform', g);

  const d = m.track.map(seg => smoothPath(seg.map(p => [m.ox + p[0] * m.sx, m.oy + p[1] * m.sy]))).join('');
  mk('path', {d: d, fill: 'none', stroke: '#e5503a', 'stroke-width': 2, 'stroke-linejoin': 'round'}, m.id + '-swim-path', g);
}
const coarse = {ox: 0, oy: 2750, sx: 1.033, sy: 0.496};
const fine = {oy: 2900, sx: 1 / 3, sy: 1 / 3};
drawMaze(Object.assign({id: 'f', x: 7, y: 2900, w: 490, h: 490, cx: 253, cy: 3146, rx: 241, ry: 241, px: 166, py: 3230, track: trackF}, fine, {ox: 7}));
drawMaze(Object.assign({id: 'g', x: 539, y: 2900, w: 490, h: 491, cx: 783, cy: 3144, rx: 238, ry: 239, px: 697, py: 3228, track: trackG}, coarse));
drawMaze(Object.assign({id: 'h', x: 1070, y: 2900, w: 490, h: 491, cx: 1315, cy: 3147, rx: 239, ry: 240, px: 1227, py: 3230, track: trackH}, coarse));
drawMaze(Object.assign({id: 'i', x: 1648, y: 2900, w: 490, h: 494, cx: 1894, cy: 3147, rx: 242, ry: 242, px: 1806, py: 3233, track: trackI}, fine, {ox: 1648}));
drawMaze(Object.assign({id: 'j', x: 2202, y: 2900, w: 490, h: 487, cx: 2448, cy: 3144, rx: 240, ry: 240, px: 2360, py: 3230, track: trackJ}, fine, {ox: 2202}));
drawMaze(Object.assign({id: 'k', x: 2757, y: 2900, w: 491, h: 489, cx: 3001, cy: 3144, rx: 240, ry: 239, px: 2915, py: 3229, track: trackK}, fine, {ox: 2757}));
</script>
</body>
</html>
